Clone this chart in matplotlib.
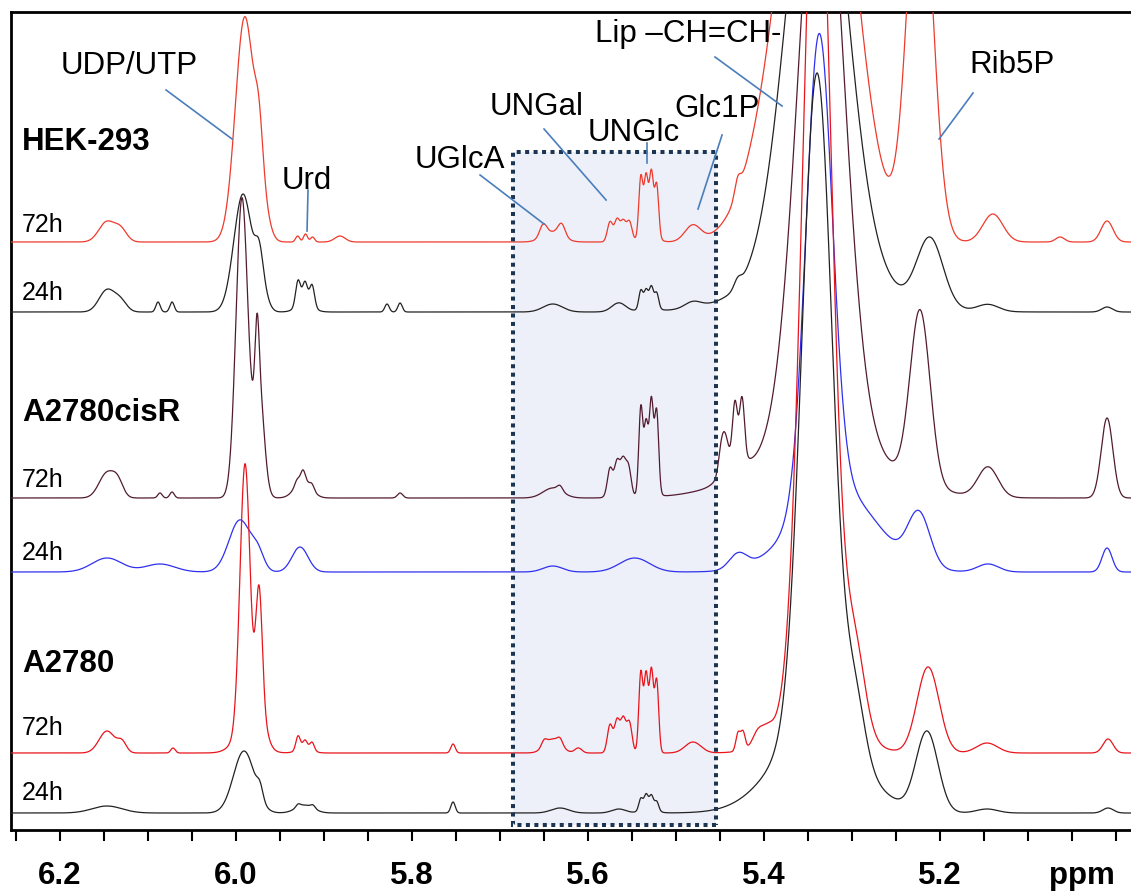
import numpy as np
import matplotlib
matplotlib.use("Agg")
import matplotlib.pyplot as plt
from matplotlib.patches import Rectangle

plt.rcParams['font.family'] = ['Liberation Sans', 'DejaVu Sans']

# ---------------- data (peak lists) ----------------
# each trace: peak centres (ppm), peak heights (intensity units), peak widths (sigma, ppm)
TRACE_NAMES = ["HEK-293 72h", "HEK-293 24h", "A2780cisR 72h", "A2780cisR 24h", "A2780 72h", "A2780 24h"]
BASELINES = [588, 518, 332, 258, 77, 17]

HEK72_CENTERS = [6.147, 6.131, 5.990, 5.974, 5.969, 5.930, 5.921, 5.913, 5.882, 5.651, 5.630, 5.640,
                 5.575, 5.567, 5.560, 5.553, 5.540, 5.534, 5.528, 5.522, 5.531, 5.481, 5.430,
                 5.3386, 5.4045, 5.2227, 5.140, 5.0636, 5.0102]
HEK72_HEIGHTS = [20, 12, 225, 50, 25, 6, 8, 5, 6, 12, 12, 10,
                 20, 22, 20, 20, 60, 56, 60, 52, 10, 16, 15,
                 556, 40, 393, 28, 5, 21]
HEK72_WIDTHS = [0.009, 0.007, 0.0108, 0.0045, 0.007, 0.0023, 0.0023, 0.0023, 0.006, 0.004, 0.004, 0.011,
                0.003, 0.003, 0.003, 0.003, 0.0023, 0.0023, 0.0023, 0.0023, 0.008, 0.009, 0.0034,
                0.0364, 0.0284, 0.0142, 0.0114, 0.005, 0.0068]

HEK24_CENTERS = [6.1466, 6.131, 6.0886, 6.0727, 5.992, 5.9739, 5.969, 5.9295, 5.9216, 5.9136, 5.922,
                 5.8284, 5.8136, 5.640, 5.565, 5.540, 5.534, 5.528, 5.522, 5.531, 5.481, 5.430,
                 5.3398, 5.3398, 5.2114, 5.1455, 5.0102]
HEK24_HEIGHTS = [22, 10, 10, 10, 118, 35, 15, 26, 22, 22, 8,
                 8, 9, 8, 9, 18, 16, 19, 15, 6, 6, 8,
                 480, 40, 68, 7, 5]
HEK24_WIDTHS = [0.009, 0.007, 0.0025, 0.0025, 0.0105, 0.0045, 0.006, 0.0028, 0.0028, 0.0028, 0.009,
                0.0025, 0.0025, 0.011, 0.008, 0.0023, 0.0023, 0.0023, 0.0023, 0.008, 0.009, 0.004,
                0.0325, 0.0682, 0.0148, 0.012, 0.006]

CISR72_CENTERS = [6.1466, 6.134, 6.0864, 6.0727, 5.9932, 5.9739, 5.9761, 5.9239, 5.9307, 5.9239, 5.9136,
                  5.8136, 5.640, 5.6318, 5.575, 5.567, 5.5602, 5.554, 5.565, 5.540, 5.534, 5.528, 5.522,
                  5.531, 5.449, 5.4443, 5.433, 5.425, 5.435, 5.3352, 5.3352, 5.2227, 5.1455, 5.0102]
CISR72_HEIGHTS = [25, 13, 5, 6, 300, 110, 70, 18, 5, 10, 5,
                  5, 10, 5, 27, 30, 31, 28, 6, 85, 62, 85, 80,
                  12, 20, 28, 55, 60, 20, 627, 60, 173, 30, 80]
CISR72_WIDTHS = [0.009, 0.006, 0.0025, 0.0025, 0.0068, 0.0057, 0.0023, 0.009, 0.0025, 0.0025, 0.0025,
                 0.003, 0.011, 0.003, 0.003, 0.003, 0.003, 0.003, 0.008, 0.0023, 0.0023, 0.0023, 0.0023,
                 0.007, 0.003, 0.0034, 0.0028, 0.0028, 0.012, 0.0253, 0.0682, 0.0114, 0.0114, 0.0066]

CISR24_CENTERS = [6.1466, 6.0864, 5.9955, 5.975, 5.9273, 5.640, 5.547, 5.4295, 5.3375, 5.3193,
                  5.2239, 5.1455, 5.0102]
CISR24_HEIGHTS = [14, 8, 52, 15, 25, 6, 14, 15, 460, 85, 52, 8, 24]
CISR24_WIDTHS = [0.017, 0.017, 0.0125, 0.0068, 0.0091, 0.011, 0.017, 0.01, 0.0148, 0.0455,
                 0.0125, 0.012, 0.0057]

A72_CENTERS = [6.1466, 6.1295, 6.0716, 5.9898, 5.9864, 5.9739, 5.970, 5.9295, 5.9216, 5.9136, 5.922,
               5.7534, 5.640, 5.650, 5.6318, 5.611, 5.575, 5.567, 5.560, 5.553, 5.540, 5.534, 5.528,
               5.522, 5.4807, 5.4295, 5.4239, 5.4068, 5.3955, 5.3398, 5.3398, 5.2966, 5.2136,
               5.1466, 5.0091]
A72_HEIGHTS = [22, 10, 5, 265, 25, 130, 20, 14, 8, 8, 5,
               9, 14, 6, 6, 5, 28, 32, 33, 30, 80, 77, 81,
               72, 11, 18, 18, 14, 10, 900, 60, 80, 86,
               10, 14]
A72_WIDTHS = [0.009, 0.005, 0.0025, 0.0057, 0.0136, 0.0037, 0.006, 0.0025, 0.0025, 0.0025, 0.008,
              0.0025, 0.009, 0.003, 0.003, 0.004, 0.003, 0.003, 0.003, 0.003, 0.0023, 0.0023, 0.0023,
              0.0023, 0.009, 0.0025, 0.0025, 0.006, 0.006, 0.0159, 0.0341, 0.0114, 0.0125,
              0.012, 0.0057]

A24_CENTERS = [6.1466, 5.9909, 5.9727, 5.922, 5.9295, 5.9125, 5.7534, 5.6318, 5.565, 5.540, 5.534,
               5.528, 5.522, 5.531, 5.3398, 5.3398, 5.2966, 5.2148, 5.1466, 5.0091]
A24_HEIGHTS = [7, 62, 12, 8, 3, 3, 11, 5, 4, 12, 14,
               13, 9, 5, 650, 90, 60, 80, 4, 5]
A24_WIDTHS = [0.017, 0.012, 0.0034, 0.01, 0.0025, 0.0025, 0.0025, 0.01, 0.008, 0.0023, 0.0023,
              0.0023, 0.0023, 0.008, 0.017, 0.0455, 0.0114, 0.0125, 0.012, 0.006]

GROUP_LABELS = ["HEK-293", "A2780cisR", "A2780"]
TIME_LABELS = ["72h", "24h", "72h", "24h", "72h", "24h"]
MAJOR_TICKS = [6.2, 6.0, 5.8, 5.6, 5.4, 5.2]
MAJOR_LABELS = ["6.2", "6.0", "5.8", "5.6", "5.4", "5.2"]
MINOR_TICKS = [6.25, 6.15, 6.10, 6.05, 5.95, 5.90, 5.85, 5.75, 5.70, 5.65, 5.55, 5.50, 5.45,
               5.35, 5.30, 5.25, 5.15, 5.10, 5.05, 5.00]
ANNOT_TEXTS = ["UDP/UTP", "Urd", "UGlcA", "UNGal", "UNGlc", "Glc1P", "Lip \u2013CH=CH-", "Rib5P"]

PEAKS = [
    (HEK72_CENTERS, HEK72_HEIGHTS, HEK72_WIDTHS),
    (HEK24_CENTERS, HEK24_HEIGHTS, HEK24_WIDTHS),
    (CISR72_CENTERS, CISR72_HEIGHTS, CISR72_WIDTHS),
    (CISR24_CENTERS, CISR24_HEIGHTS, CISR24_WIDTHS),
    (A72_CENTERS, A72_HEIGHTS, A72_WIDTHS),
    (A24_CENTERS, A24_HEIGHTS, A24_WIDTHS),
]

# ---------------- figure ----------------
W, H = 1131, 892
fig = plt.figure(figsize=(W / 100, H / 100), dpi=100)
ax = fig.add_axes([11 / W, 62 / H, 1120 / W, 818 / H])
ax.set_xlim(6.2557, 4.983)
ax.set_ylim(0, 818)

colors = ['#ee3a2c', '#222222', '#521b30', '#2f30ee', '#e8141c', '#222222']
ppm = np.linspace(6.27, 4.97, 4000)
for (cs, hs, ws), base, col in zip(PEAKS, BASELINES, colors):
    cs = np.asarray(cs)[:, None]
    hs = np.asarray(hs, dtype=float)[:, None]
    ws = np.asarray(ws)[:, None]
    spec = base + (hs * np.exp(-0.5 * ((ppm[None, :] - cs) / ws) ** 2)).sum(axis=0)
    ax.plot(ppm, spec, color=col, lw=0.9, zorder=3)

# highlighted region
ax.add_patch(Rectangle((5.4545, 5), 0.2305, 673, facecolor='#edf0f8', edgecolor='none', zorder=1))
ax.add_patch(Rectangle((5.4545, 5), 0.2305, 673, facecolor='none', edgecolor='#1c3553',
                       lw=2.9, linestyle=(0, (1, 1.1)), zorder=6))

# axes styling
for s in ['right']:
    ax.spines[s].set_visible(False)
for s in ['left', 'top', 'bottom']:
    ax.spines[s].set_linewidth(2.0)
ax.set_yticks([])
ax.set_xticks(MAJOR_TICKS)
ax.set_xticklabels(MAJOR_LABELS, fontsize=22.5, fontweight='bold')
ax.set_xticks(MINOR_TICKS, minor=True)
ax.tick_params(axis='x', which='both', direction='out', length=8, width=1.5, pad=14)
fig.text(1082 / W, 1 - 876 / H, 'ppm', ha='center', va='center', fontsize=22.5, fontweight='bold')

# left labels
xl = 6.243
for txt, y in zip(GROUP_LABELS, [688, 417, 166]):
    ax.text(xl, y, txt, fontsize=22.5, fontweight='bold', ha='left', va='center')
for txt, y in zip(TIME_LABELS, [605, 537, 350, 277, 102, 37]):
    ax.text(xl, y, txt, fontsize=18, ha='left', va='center')

# annotations
annot_pos = [(6.1216, 764), (5.9193, 649), (5.7455, 670), (5.658, 723), (5.5477, 697),
             (5.4534, 721), (5.4864, 796), (5.1182, 765)]
annot_lines = [((6.0795, 740), (6.0045, 691)), ((5.9182, 640), (5.9193, 599)),
               ((5.7227, 655), (5.65, 606)), ((5.65, 701), (5.5795, 630)),
               ((5.533, 687), (5.533, 667)), ((5.4477, 695), (5.475, 621)),
               ((5.4557, 773), (5.3795, 724)), ((5.1625, 737), (5.2011, 691))]
for txt, (x, y), (p0, p1) in zip(ANNOT_TEXTS, annot_pos, annot_lines):
    ax.text(x, y, txt, fontsize=22.5, ha='center', va='center', zorder=7)
    ax.plot([p0[0], p1[0]], [p0[1], p1[1]], color='#4a7ebb', lw=1.2, zorder=7)

fig.savefig('out.png', dpi=100)
